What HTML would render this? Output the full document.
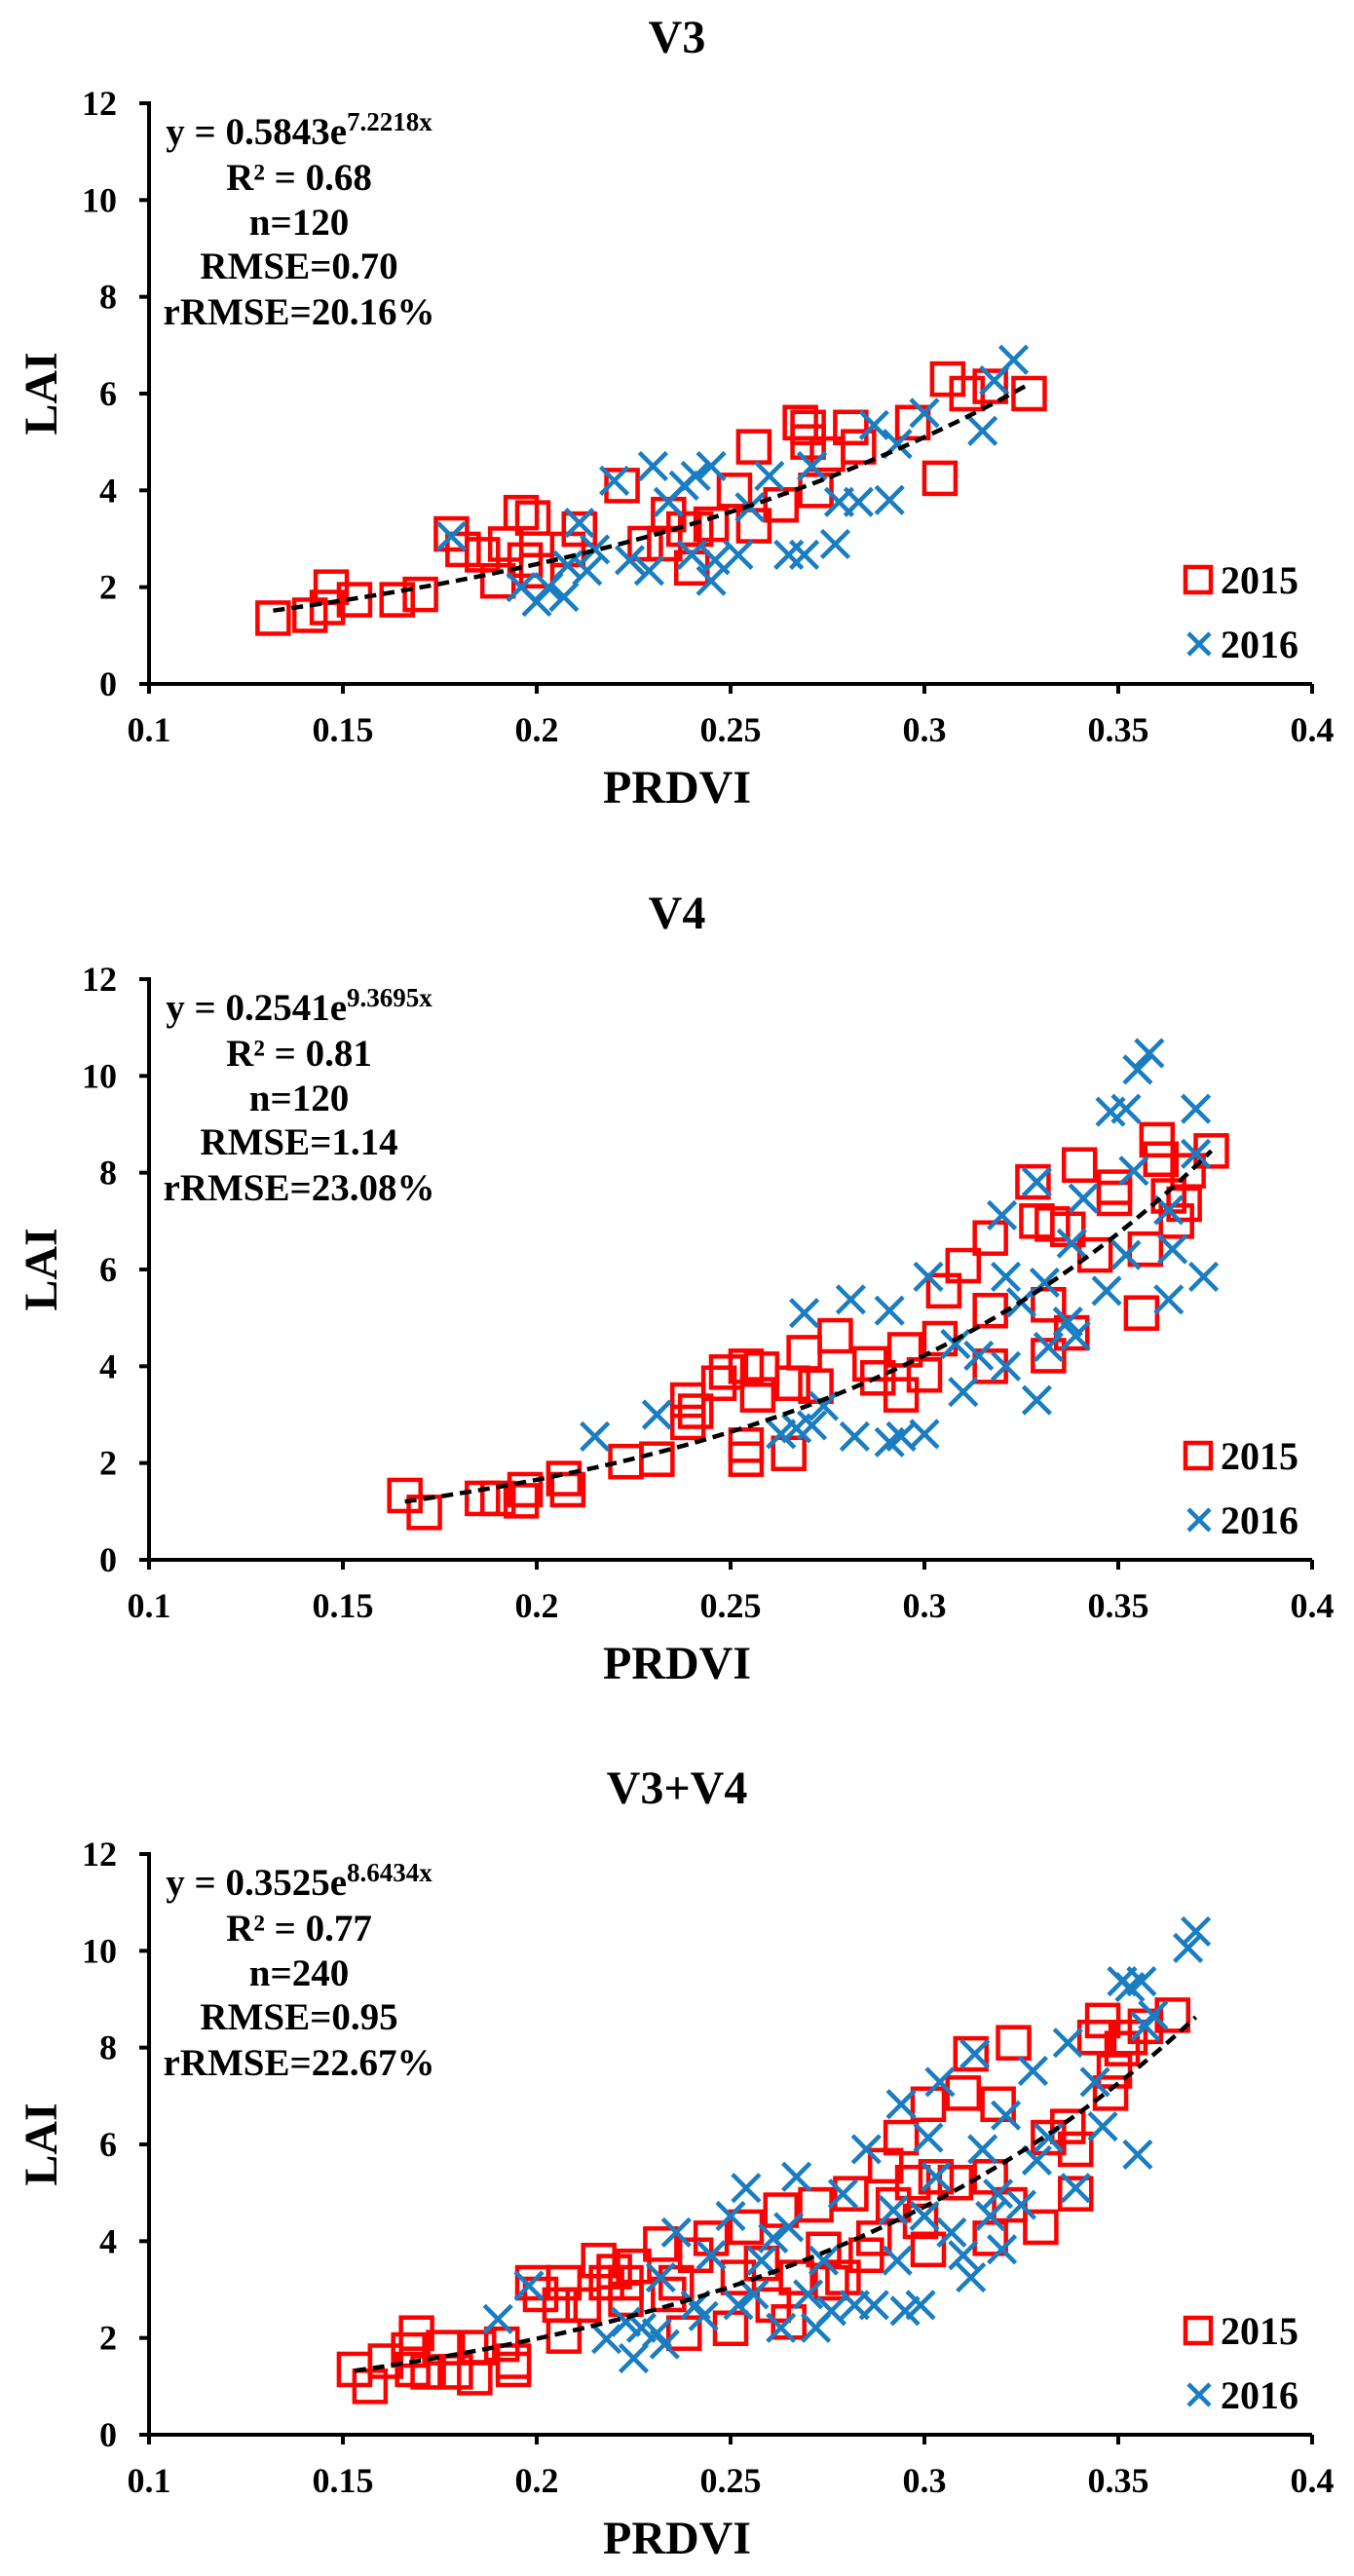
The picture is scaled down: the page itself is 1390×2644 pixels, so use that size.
<!DOCTYPE html>
<html><head><meta charset="utf-8">
<style>
html,body{margin:0;padding:0;background:#fff;}
svg{display:block;}
text{font-family:"Liberation Serif",serif;font-weight:bold;fill:#000;}
</style></head>
<body>
<svg id="fig" width="1390" height="2644" viewBox="0 0 1390 2644" xmlns="http://www.w3.org/2000/svg"></svg>
<script>
const xTicks=[0.1,0.15,0.2,0.25,0.3,0.35,0.4];
const xTickLabels=["0.1","0.15","0.2","0.25","0.3","0.35","0.4"];
const yTicks=[0,2,4,6,8,10,12];
const yTickLabels=["0","2","4","6","8","10","12"];
const panelTitles=["V3","V4","V3+V4"];
const fitA=[0.5843,0.2541,0.3525];
const fitB=[7.2218,9.3695,8.6434];
const fitLabelA=["0.5843","0.2541","0.3525"];
const fitLabelB=["7.2218x","9.3695x","8.6434x"];
const r2Labels=["0.68","0.81","0.77"];
const nLabels=["120","120","240"];
const rmseLabels=["0.70","1.14","0.95"];
const rrmseLabels=["20.16%","23.08%","22.67%"];
const fitXMin=[0.132,0.166,0.153];
const fitXMax=[0.327,0.374,0.370];

const p1_2015_x=[0.132,0.1415,0.146,0.147,0.153,0.164,0.170,0.178,0.181,0.186,0.190,0.192,0.196,0.199,0.197,0.2,0.211,0.208,0.222,0.228,0.233,0.234,0.238,0.240,0.251,0.256,0.256,0.263,0.268,0.270,0.270,0.272,0.275,0.281,0.283,0.297,0.304,0.306,0.311,0.317,0.327,0.245,0.241];
const p1_2015_y=[1.36,1.42,1.58,2.0,1.74,1.74,1.85,3.1,2.78,2.67,2.13,2.89,3.54,3.43,2.56,2.34,3.2,2.78,4.1,2.9,2.9,3.5,3.2,2.4,4.0,3.27,4.9,3.7,5.4,5.3,5.0,4.0,4.75,5.3,4.9,5.4,4.25,6.3,6.0,6.15,6.0,3.3,3.2];
const p1_2016_x=[0.178,0.196,0.2,0.203,0.207,0.208,0.211,0.215,0.213,0.220,0.224,0.229,0.234,0.230,0.241,0.245,0.240,0.245,0.246,0.252,0.255,0.260,0.265,0.269,0.271,0.277,0.278,0.283,0.291,0.287,0.293,0.3,0.315,0.318,0.323,0.238];
const p1_2016_y=[3.05,2.0,1.7,2.0,1.8,2.45,3.33,2.78,2.34,4.2,2.56,2.34,3.76,4.5,4.3,4.5,2.67,2.13,2.56,2.67,3.65,4.3,2.67,2.67,4.5,2.89,3.76,3.76,3.8,5.35,4.96,5.6,5.23,6.27,6.7,4.1];

const p2_2015_x=[0.166,0.171,0.186,0.190,0.196,0.197,0.207,0.208,0.223,0.231,0.239,0.239,0.241,0.247,0.249,0.254,0.254,0.254,0.257,0.258,0.265,0.266,0.269,0.272,0.277,0.286,0.288,0.294,0.295,0.3,0.304,0.305,0.310,0.317,0.317,0.317,0.328,0.329,0.332,0.333,0.332,0.337,0.338,0.340,0.344,0.349,0.349,0.356,0.357,0.360,0.361,0.363,0.365,0.367,0.368,0.374];
const p2_2015_y=[1.33,0.98,1.27,1.27,1.22,1.45,1.68,1.45,2.03,2.08,2.84,3.3,3.07,3.65,3.88,4.0,2.37,2.08,3.41,3.94,2.2,3.65,4.28,3.59,4.63,4.05,3.76,3.41,4.34,3.82,4.57,5.56,6.08,6.65,4.0,5.15,7.81,7.0,5.27,6.94,4.22,6.83,4.69,8.16,6.3,7.7,7.47,5.1,6.42,8.68,8.28,7.52,7.0,7.35,8.04,8.45];
const p2_2016_x=[0.215,0.231,0.263,0.267,0.269,0.271,0.274,0.281,0.282,0.291,0.291,0.294,0.3,0.301,0.308,0.31,0.314,0.320,0.321,0.321,0.325,0.329,0.329,0.331,0.332,0.337,0.338,0.339,0.341,0.347,0.348,0.352,0.352,0.354,0.355,0.358,0.363,0.363,0.364,0.370,0.372,0.370];
const p2_2016_y=[2.55,3.0,2.6,2.72,5.1,2.78,3.18,5.38,2.55,5.15,2.43,2.55,2.6,5.85,4.46,3.47,4.22,7.12,5.85,4.0,5.32,3.3,7.81,5.73,4.4,4.92,6.54,4.63,7.47,5.56,9.26,9.32,6.3,8.04,10.13,10.47,7.23,5.38,6.42,9.32,5.85,8.39];

const p3_2015_x=[0.153,0.157,0.161,0.167,0.169,0.168,0.172,0.176,0.179,0.184,0.185,0.191,0.194,0.194,0.199,0.201,0.207,0.207,0.206,0.212,0.216,0.218,0.220,0.223,0.223,0.225,0.232,0.234,0.238,0.236,0.241,0.245,0.25,0.252,0.254,0.258,0.261,0.263,0.265,0.267,0.272,0.274,0.276,0.279,0.281,0.285,0.287,0.290,0.292,0.294,0.297,0.299,0.301,0.301,0.303,0.308,0.31,0.312,0.317,0.319,0.323,0.317,0.322,0.330,0.332,0.337,0.339,0.339,0.344,0.346,0.348,0.351,0.353,0.357,0.364,0.349];
const p3_2015_y=[1.35,1.0,1.52,1.75,2.1,1.35,1.3,1.8,1.3,1.18,1.8,1.87,1.52,1.35,3.14,2.9,3.14,2.04,2.68,2.68,3.6,3.14,3.37,2.8,3.14,3.48,3.94,2.9,2.1,3.14,3.71,4.06,2.2,3.25,4.29,3.54,2.68,4.64,2.33,3.25,4.75,3.83,3.14,3.25,4.98,3.71,4.06,5.56,4.75,6.14,5.21,4.41,6.83,3.83,5.33,5.21,7.06,7.87,5.33,6.83,8.1,4.06,4.75,4.29,6.14,6.37,4.98,5.9,8.21,8.56,7.06,7.98,8.21,8.44,8.67,7.52];
const p3_2016_x=[0.19,0.198,0.218,0.223,0.225,0.227,0.231,0.233,0.232,0.236,0.241,0.243,0.245,0.25,0.252,0.254,0.256,0.258,0.261,0.263,0.265,0.267,0.270,0.272,0.274,0.276,0.279,0.282,0.285,0.287,0.292,0.293,0.294,0.295,0.299,0.3,0.301,0.303,0.304,0.307,0.31,0.312,0.313,0.315,0.317,0.319,0.32,0.321,0.325,0.328,0.329,0.332,0.337,0.339,0.344,0.346,0.351,0.353,0.355,0.356,0.357,0.368,0.370,0.359];
const p3_2016_y=[2.39,3.08,1.98,2.33,1.58,2.21,2.1,1.87,3.25,4.18,2.68,2.45,3.71,4.52,2.68,5.1,2.9,3.6,4.06,2.21,4.29,5.33,2.9,2.21,3.6,2.56,4.98,2.68,5.9,2.68,4.64,3.6,6.83,2.56,2.68,4.52,6.14,5.33,7.29,4.18,3.71,3.25,7.87,5.9,4.52,4.98,3.83,6.6,4.75,7.52,5.67,6.14,8.1,5.1,7.29,6.37,9.37,9.25,5.79,9.37,8.44,10.06,10.4,8.67];

const s2015x=[p1_2015_x,p2_2015_x,p3_2015_x], s2015y=[p1_2015_y,p2_2015_y,p3_2015_y];
const s2016x=[p1_2016_x,p2_2016_x,p3_2016_x], s2016y=[p1_2016_y,p2_2016_y,p3_2016_y];

const NS="http://www.w3.org/2000/svg";
const svg=document.getElementById('fig');
const offsets=[0,899,1797];
const X0=153,X1=1347,YT=106,YB=702;
function mk(tag,attrs,parent){const e=document.createElementNS(NS,tag);for(const k in attrs)e.setAttribute(k,attrs[k]);(parent||svg).appendChild(e);return e;}

offsets.forEach((off,p)=>{
  const g=mk('g',{});
  
  
  const sx=v=>X0+(v-0.1)/0.3*(X1-X0);
  const sy=v=>off+YB-(v/12)*(YB-YT);
  const t=mk('text',{x:695,y:off+54,'font-size':48,'text-anchor':'middle'},g);t.textContent=panelTitles[p];
  
  
  // axes
  const ax=mk('path',{d:`M${X0} ${off+YT-2}V${off+YB}H${X1}`,fill:'none',stroke:'#000','stroke-width':4},g);
  
  
  yTicks.forEach((v,i)=>{
    const tk=mk('line',{x1:X0-10,x2:X0,y1:sy(v),y2:sy(v),stroke:'#000','stroke-width':4},g);
    
    
    const l=mk('text',{x:120,y:sy(v)+12,'font-size':36,'text-anchor':'end'},g);l.textContent=yTickLabels[i];
    
    
  });
  xTicks.forEach((v,i)=>{
    const tk=mk('line',{x1:sx(v),x2:sx(v),y1:off+YB,y2:off+YB+10,stroke:'#000','stroke-width':4},g);
    
    
    const l=mk('text',{x:sx(v),y:off+YB+59,'font-size':36,'text-anchor':'middle'},g);l.textContent=xTickLabels[i];
    
    
  });
  const xt=mk('text',{x:695,y:off+YB+122,'font-size':48,'text-anchor':'middle'},g);xt.textContent='PRDVI';
  
  
  const yt=mk('text',{x:0,y:0,'font-size':48,'text-anchor':'middle',transform:`translate(58,${off+404}) rotate(-90)`},g);yt.textContent='LAI';
  
  
  // stats
  const st=mk('g',{},g);
  
  
  const eq=mk('text',{x:307,y:off+YT+42,'font-size':39,'text-anchor':'middle'},st);
  eq.appendChild(document.createTextNode('y = '+fitLabelA[p]+'e'));
  const sup=document.createElementNS(NS,'tspan');sup.setAttribute('font-size','27');sup.setAttribute('dy','-14');sup.textContent=fitLabelB[p];eq.appendChild(sup);
  const lines=['R² = '+r2Labels[p],'n='+nLabels[p],'RMSE='+rmseLabels[p],'rRMSE='+rrmseLabels[p]];
  const ly=[76,122,167,214];
  lines.forEach((s,i)=>{const e=mk('text',{x:307,y:off+YT+ly[i]+13,'font-size':39,'text-anchor':'middle'},st);e.textContent=s;});
  // markers 2015
  const xs=s2015x[p],ys=s2015y[p];
  xs.forEach((v,i)=>{
    const r=mk('rect',{x:sx(v)-16,y:sy(ys[i])-16,width:32,height:32,fill:'none',stroke:'#ff0000','stroke-width':4.5},g);
    
    
  });
  const bx=s2016x[p],by=s2016y[p];
  bx.forEach((v,i)=>{
    const cx=sx(v),cy=sy(by[i]),h=14;
    const c=mk('path',{d:`M${cx-h} ${cy-h}L${cx+h} ${cy+h}M${cx-h} ${cy+h}L${cx+h} ${cy-h}`,stroke:'#1a7dc2','stroke-width':4.5,fill:'none'},g);
    
    
  });
  // trend
  let d='';const N=60;
  for(let k=0;k<=N;k++){const xv=fitXMin[p]+(fitXMax[p]-fitXMin[p])*k/N;const yv=fitA[p]*Math.exp(fitB[p]*xv);d+=(k?'L':'M')+sx(xv).toFixed(1)+' '+sy(yv).toFixed(1);}
  const tr=mk('path',{d:d,fill:'none',stroke:'#000','stroke-width':4.5,'stroke-dasharray':'12 7'},g);
  
  
  // legend
  const lg=mk('g',{},g);
  
  
  mk('rect',{x:1217,y:off+YB-120,width:26,height:26,fill:'none',stroke:'#ff0000','stroke-width':4.5},lg);
  const l1=mk('text',{x:1253,y:off+YB-93,'font-size':40},lg);l1.textContent='2015';
  const cx=1231,cy=off+YB-41;
  mk('path',{d:`M${cx-11} ${cy-11}L${cx+11} ${cy+11}M${cx-11} ${cy+11}L${cx+11} ${cy-11}`,stroke:'#1a7dc2','stroke-width':4.5},lg);
  const l2=mk('text',{x:1253,y:off+YB-27,'font-size':40},lg);l2.textContent='2016';
});
</script>
</body></html>
